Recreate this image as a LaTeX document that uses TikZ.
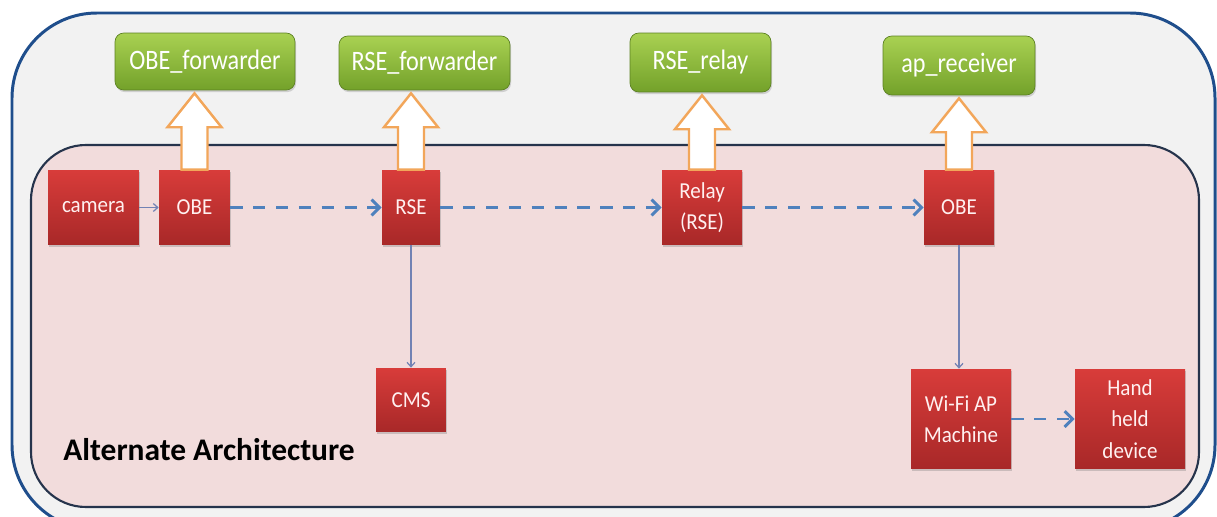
\documentclass[tikz,border=0pt]{standalone}
\usepackage{fontspec}
\setmainfont{Carlito}
\newfontfamily\narrowfont[FakeStretch=0.86]{Carlito}
\newfontfamily\boxfont[FakeStretch=0.92]{Carlito}
\usetikzlibrary{arrows.meta,shadows,calc}
\definecolor{frameblue}{HTML}{1F4E8C}
\definecolor{framegray}{HTML}{F2F2F2}
\definecolor{zonepink}{HTML}{F2DCDC}
\definecolor{zoneline}{HTML}{26344C}
\definecolor{redtop}{HTML}{D83C3A}
\definecolor{redbot}{HTML}{A82828}
\definecolor{greentop}{HTML}{A9D152}
\definecolor{greenbot}{HTML}{73A12A}
\definecolor{feedorange}{HTML}{F2A65A}
\definecolor{flowblue}{HTML}{4F81BD}
\definecolor{linkblue}{HTML}{7282B4}
\newcommand{\feedarrow}[2]{%
  \draw[feed] let \p1=(#1.north), \p2=(#2.south) in
    (\x1-7.4pt,\y1) -- (\x1-7.4pt,\y2-21pt) -- (\x1-15.4pt,\y2-21pt)
    -- (\x1,\y2-1.7pt) -- (\x1+15.4pt,\y2-21pt) -- (\x1+7.4pt,\y2-21pt)
    -- (\x1+7.4pt,\y1) -- cycle;}

\begin{document}
\begin{tikzpicture}[x=0.02cm, y=-0.02cm,
      box/.style = {shape=rectangle, inner sep=0pt, align=center,
        text=white!94!red, font=\boxfont\fontsize{13}{17.8}\selectfont,
        top color=redtop, bottom color=redbot,
        drop shadow={shadow xshift=0.6pt, shadow yshift=-1.2pt, opacity=0.35}},
      task/.style = {shape=rectangle, rounded corners=5pt, inner sep=0pt,
        draw=greenbot!80!black, line width=0.4pt, text=white,
        font=\narrowfont\fontsize{16}{18}\selectfont,
        top color=greentop, bottom color=greenbot,
        drop shadow={shadow xshift=0.6pt, shadow yshift=-1.2pt, opacity=0.3}},
      feed/.style = {draw=feedorange, fill=white, line width=1.4pt, line join=miter},
      flow/.style = {draw=flowblue, line width=1.7pt, dash pattern=on 7pt off 6pt,
        -{Straight Barb[length=4.5pt, width=9pt, line width=1.7pt]}},
      link/.style = {draw=linkblue, line width=0.7pt,
        -{Straight Barb[length=2.5pt, width=4.5pt]}}]
  \useasboundingbox (0,0) rectangle (1217,517);
  \draw[draw=frameblue, fill=framegray, line width=1.7pt, rounded corners=1.7cm]
    (12,13) rectangle (1215,530);
  \draw[draw=zoneline, fill=zonepink, line width=1.2pt, rounded corners=1.1cm]
    (31,145) rectangle (1199,507);

  \node[box, minimum width=1.82cm, minimum height=1.5cm] (camera) at (93.5,207.5) {camera};
  \node[box, minimum width=1.42cm, minimum height=1.5cm] (obeA) at (194.5,207.5) {OBE};
  \node[box, minimum width=1.16cm, minimum height=1.5cm] (rse) at (411,207.5) {RSE};
  \node[box, minimum width=1.6cm, minimum height=1.5cm] (relay) at (702,207.5) {Relay\\(RSE)};
  \node[box, minimum width=1.4cm, minimum height=1.5cm] (obeB) at (959,207.5) {OBE};
  \node[box, minimum width=1.4cm, minimum height=1.28cm] (cms) at (411,400) {CMS};
  \node[box, minimum width=2.0cm, minimum height=2.0cm] (wifi) at (961,419) {Wi-Fi AP\\Machine};
  \node[box, minimum width=2.2cm, minimum height=2.0cm] (hand) at (1130,419) {Hand\\held\\device};

  \node[task, minimum width=3.6cm, minimum height=1.14cm] (obefwd) at (205,61.5) {OBE\_forwarder};
  \node[task, minimum width=3.42cm, minimum height=1.08cm] (rsefwd) at (424.5,63) {RSE\_forwarder};
  \node[task, minimum width=2.82cm, minimum height=1.18cm] (rserelay) at (700.5,62.5) {RSE\_relay};
  \node[task, minimum width=3.04cm, minimum height=1.18cm] (aprecv) at (959,65.5) {ap\_receiver};

  \node[anchor=base west, inner sep=0pt, font=\bfseries\fontsize{17.9}{20}\selectfont] (title)
    at (63,460) {Alternate Architecture};

  \feedarrow{obeA}{obefwd}
  \feedarrow{rse}{rsefwd}
  \feedarrow{relay}{rserelay}
  \feedarrow{obeB}{aprecv}

  \draw[link] (camera) -- (obeA);
  \draw[flow] (obeA) -- (rse);
  \draw[flow] (rse) -- (relay);
  \draw[flow] (relay) -- (obeB);
  \draw[link] (rse) -- (cms);
  \draw[link] (obeB.south) -- (obeB.south |- wifi.north);
  \draw[flow] (wifi) -- (hand);
\end{tikzpicture}
\end{document}
